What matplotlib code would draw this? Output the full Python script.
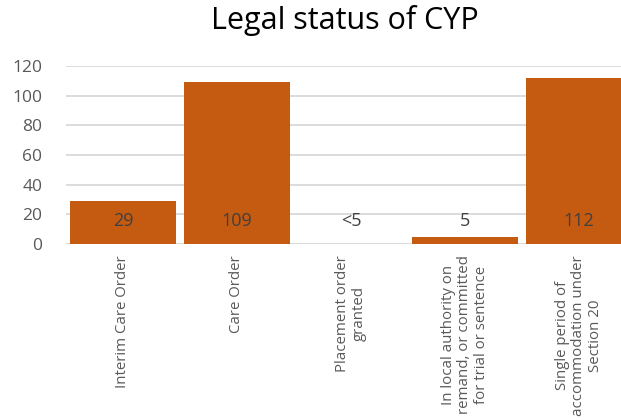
import numpy as np
import matplotlib.pyplot as plt

categories = ['Interim Care Order', 'Care Order', 'Placement order\ngranted',
              'In local authority on\nremand, or committed\nfor trial or sentence',
              'Single period of\naccommodation under\nSection 20']
values = [29, 109, 0, 5, 112]
value_labels = ['29', '109', '<5', '5', '112']
yticks = [0, 20, 40, 60, 80, 100, 120]

plt.rcParams['font.family'] = ['Open Sans', 'DejaVu Sans']

fig = plt.figure(figsize=(6.21, 4.20), dpi=100)
ax = fig.add_axes([66 / 621, 1 - 244 / 420, 570 / 621, 178 / 420])

x = np.arange(len(categories))
ax.bar(x, values, width=0.93, color='#C55A11', zorder=3)

# labels sit at a fixed height inside the bars
for xi, lab in zip(x, value_labels):
    ax.text(xi, 15.5, lab, ha='center', va='center', fontsize=13, color='#404040', zorder=4)

ax.set_xlim(-0.5, len(categories) - 0.5)
ax.set_ylim(0, 120)
ax.set_yticks(yticks)
ax.yaxis.grid(True, color='#d9d9d9', linewidth=1.3, zorder=0)
ax.tick_params(axis='y', length=0, labelsize=12.5, labelcolor='#595959', pad=17)
ax.tick_params(axis='x', length=0, pad=8)
ax.set_xticks(x)
ax.set_xticklabels(categories, rotation=90, fontsize=10.8, color='#595959',
                   ha='center', va='top', multialignment='center', linespacing=1.15)
for s in ax.spines.values():
    s.set_visible(False)

fig.text(345 / 621, 1 - 20 / 420, 'Legal status of CYP', fontsize=22, color='black',
         ha='center', va='center')

fig.savefig('out.png', dpi=100)
